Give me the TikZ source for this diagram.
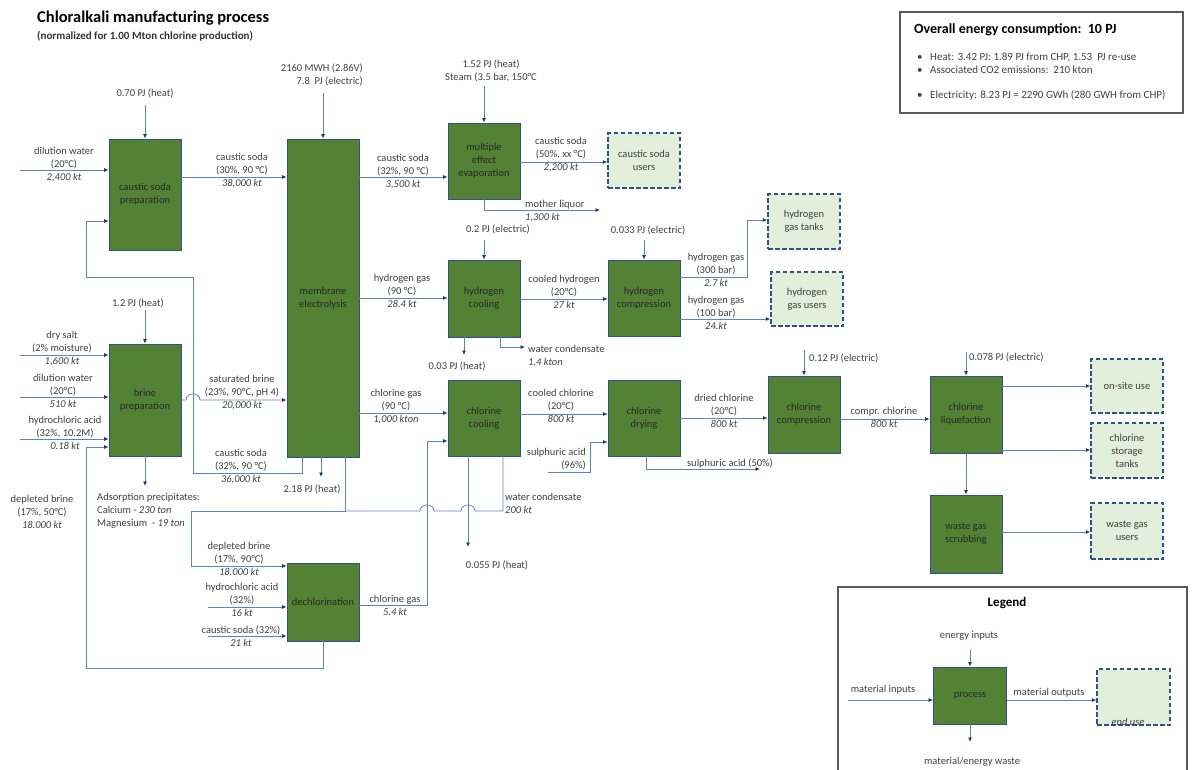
\documentclass[tikz,border=0pt]{standalone}
\usepackage{fontspec}
\setmainfont{Carlito}
\usetikzlibrary{arrows.meta}
\definecolor{procgreen}{HTML}{548235}
\definecolor{procedge}{HTML}{2F528F}
\definecolor{usefill}{HTML}{E2EFDA}
\definecolor{flowline}{HTML}{6482B9}
\definecolor{tipcolor}{HTML}{203864}
\definecolor{lbltext}{HTML}{404040}
\tikzstyle{process} = [rectangle, draw = procedge, fill = procgreen, line width = 0.8pt, minimum width = 72pt, minimum height = 77pt, align = center, text = black!85, inner sep = 1pt, font = \fontsize{10.5}{13}\selectfont]
\tikzstyle{enduse} = [rectangle, draw = procedge, fill = usefill, dash pattern = on 4.5pt off 2.5pt, line width = 1.4pt, minimum width = 72pt, minimum height = 55pt, align = center, text = lbltext, font = \fontsize{10.5}{13}\selectfont]
\tikzstyle{lbl} = [align = center, text = lbltext, inner sep = 0pt, font = \fontsize{10.5}{13}\selectfont]
\tikzstyle{flow} = [-{Latex[length = 4.5pt, width = 4pt, color = tipcolor]}, draw = flowline, line width = 0.8pt]
\tikzstyle{pipe} = [draw = flowline, line width = 0.8pt]
\tikzstyle{infobox} = [rectangle, draw = gray!70!black, line width = 1.2pt]

\begin{document}
\begin{tikzpicture}[x = 1pt, y = -1pt]
            \useasboundingbox (0, 0) rectangle (1196, 769);
            \node (ttl) at (37, 18) [anchor = west, inner sep = 0pt, font = \bfseries\fontsize{16.5}{20}\selectfont] {Chloralkali manufacturing process};
            \node (subttl) at (37, 36) [anchor = west, inner sep = 0pt, text = black!80, font = \bfseries\fontsize{11}{13}\selectfont] {(normalized for 1.00 Mton chlorine production)};
            \node (engbox) at (1041.5, 62.5) [infobox, minimum width = 283pt, minimum height = 101pt] {};
            \node (engttl) at (914, 30) [anchor = west, inner sep = 0pt, font = \bfseries\fontsize{14}{17}\selectfont] {Overall energy consumption:\ \ 10 PJ};
            \node (enga) at (917, 57) [lbl, anchor = west, font = \fontsize{11}{13}\selectfont] {\makebox[13pt][l]{•}Heat: 3.42 PJ: 1.89 PJ from CHP, 1.53\ \ PJ re-use};
            \node (engb) at (917, 70) [lbl, anchor = west, font = \fontsize{11}{13}\selectfont] {\makebox[13pt][l]{•}Associated CO2 emissions:\ \ 210 kton};
            \node (engc) at (917, 95) [lbl, anchor = west, font = \fontsize{11}{13}\selectfont] {\makebox[13pt][l]{•}Electricity: 8.23 PJ = 2290 GWh (280 GWH from CHP)};

            \node (prep) at (145, 194.5) [process, minimum height = 111pt] {caustic soda\\preparation};
            \node (memb) at (323, 298) [process, minimum height = 318pt] {membrane\\electrolysis};
            \node (evap) at (484, 161) [process, minimum height = 76pt] {multiple\\effect\\evaporation};
            \node (hcool) at (484, 298.5) [process] {hydrogen\\cooling};
            \node (clcool) at (484, 418) [process, minimum height = 76pt] {chlorine\\cooling};
            \node (hcomp) at (644, 298) [process, minimum height = 76pt] {hydrogen\\compression};
            \node (cldry) at (644, 418) [process, minimum height = 76pt] {chlorine\\drying};
            \node (clcomp) at (804, 414.5) [process] {chlorine\\compression};
            \node (liq) at (966, 414.5) [process] {chlorine\\liquefaction};
            \node (scrub) at (966, 534) [process, minimum height = 78pt] {waste gas\\scrubbing};
            \node (brine) at (145, 400) [process, minimum height = 112pt] {brine\\preparation};
            \node (dechl) at (323, 602) [process, minimum height = 78pt] {dechlorination};

            \node (csusers) at (644, 160.5) [enduse] {caustic soda\\users};
            \node (htanks) at (804, 221.5) [enduse] {hydrogen\\gas tanks};
            \node (husers) at (807, 299) [enduse, minimum height = 54pt] {hydrogen\\gas users};
            \node (onsite) at (1127, 386) [enduse, minimum height = 54pt] {on-site use};
            \node (cltanks) at (1127, 450.5) [enduse] {chlorine\\storage\\tanks};
            \node (wgusers) at (1127, 531) [enduse, minimum height = 56pt] {waste gas\\users};

            \coordinate (inprep) at (145, 105);
            \coordinate (inwater) at (20, 170);
            \coordinate (inmemb) at (323, 93);
            \coordinate (inevap) at (484, 86);
            \coordinate (outliquor) at (600, 210);
            \coordinate (inhcool) at (484, 240);
            \coordinate (outhheat) at (464, 355);
            \coordinate (outhwater) at (525, 347);
            \coordinate (inhcomp) at (644, 240);
            \coordinate (insulph) at (548, 472);
            \coordinate (outsulph) at (760, 469);
            \coordinate (inclcomp) at (804, 350);
            \coordinate (inliq) at (966, 352);
            \coordinate (inbrine) at (145, 310);
            \coordinate (insalt) at (20, 355);
            \coordinate (inwaterb) at (20, 397);
            \coordinate (inacid) at (20, 439);
            \coordinate (outprecip) at (145, 486);
            \coordinate (outmheat) at (321, 477);
            \coordinate (outclheat) at (468, 547);
            \coordinate (inacidd) at (208, 607);
            \coordinate (insoda) at (208, 636);

            \draw [flow] (inprep) -- (prep.north);
            \draw [flow] (inwater) -- (prep.west |- 0,170);
            \draw [flow] (prep.east |- 0,177) -- (memb.west |- 0,177);
            \draw [flow] (inmemb) -- (memb.north);
            \draw [flow] (memb.east |- 0,177) -- (evap.west |- 0,177);
            \draw [flow] (inevap) -- (evap.north);
            \draw [flow] (evap.east |- 0,162) -- (csusers.west |- 0,162);
            \draw [flow] (evap.south) |- (outliquor);
            \draw [flow] (memb.east |- 0,298) -- (hcool.west |- 0,298);
            \draw [flow] (inhcool) -- (hcool.north);
            \draw [flow] (hcool.east |- 0,299) -- (hcomp.west |- 0,299);
            \draw [flow] (hcool.south -| outhheat) -- (outhheat);
            \draw [flow] (hcool.south -| 500,0) |- (outhwater);
            \draw [flow] (inhcomp) -- (hcomp.north);
            \draw [flow] (hcomp.east |- 0,277) -- (747, 277) -- (747, 220) -- (htanks.west |- 0,220);
            \draw [flow] (hcomp.east |- 0,319) -- (husers.west |- 0,319);
            \draw [flow] (memb.east |- 0,413) -- (clcool.west |- 0,413);
            \draw [flow] (clcool.east |- 0,414) -- (cldry.west |- 0,414);
            \draw [flow] (insulph) -| (590, 442) -- (cldry.west |- 0,442);
            \draw [flow] (cldry.south -| 646,0) |- (outsulph);
            \draw [flow] (cldry.east |- 0,418) -- (clcomp.west |- 0,418);
            \draw [flow] (inclcomp) -- (clcomp.north);
            \draw [flow] (clcomp.east |- 0,419) -- (liq.west |- 0,419);
            \draw [flow] (inliq) -- (liq.north);
            \draw [flow] (liq.east |- 0,386) -- (onsite.west |- 0,386);
            \draw [flow] (liq.east |- 0,450) -- (cltanks.west |- 0,450);
            \draw [flow] (liq.south) -- (scrub.north);
            \draw [flow] (scrub.east |- 0,532) -- (wgusers.west |- 0,532);
            \draw [flow] (inbrine) -- (brine.north);
            \draw [flow] (insalt) -- (brine.west |- 0,355);
            \draw [flow] (inwaterb) -- (brine.west |- 0,397);
            \draw [flow] (inacid) -- (brine.west |- 0,439);
            \draw [flow] (brine.east |- 0,400) -- (186, 400) .. controls (186, 392) and (200, 392) .. (200, 400) -- (memb.west |- 0,400);
            \draw [flow] (brine.south) -- (outprecip);
            \draw [flow] (memb.south -| 302,0) -- (302, 473) -- (193, 473) -- (193, 277) -- (86, 277) -- (86, 221) -- (prep.west |- 0,221);
            \draw [flow] (memb.south -| outmheat) -- (outmheat);
            \draw [flow] (memb.south -| 345,0) -- (345, 511) -- (191, 511) -- (191, 566) -- (dechl.west |- 0,566);
            \draw [pipe] (clcool.south -| 503,0) -- (503, 511) -- (475, 511) .. controls (475, 503) and (461, 503) .. (461, 511) -- (434, 511) .. controls (434, 503) and (420, 503) .. (420, 511) -- (345, 511);
            \draw [flow] (clcool.south -| outclheat) -- (outclheat);
            \draw [flow] (dechl.east |- 0,605) -- (427, 605) -- (427, 441) -- (clcool.west |- 0,441);
            \draw [flow] (inacidd) -- (dechl.west |- 0,607);
            \draw [flow] (insoda) -- (dechl.west |- 0,636);
            \draw [flow] (dechl.south) -- (323, 668) -- (86, 668) -- (86, 447) -- (brine.west |- 0,447);

            \node (lbla) at (145, 93) [lbl] {0.70 PJ (heat)};
            \node (lblb) at (64, 165) [lbl] {dilution water\\(20°C)\\\textit{2,400 kt}};
            \node (lblc) at (242, 171) [lbl] {caustic soda\\(30\%, 90 °C)\\\textit{38,000 kt}};
            \node (lbld) at (363, 75) [lbl, anchor = east, align = right] {2160 MWH (2.86V)\\7.8\ \ PJ (electric)};
            \node (lble) at (403, 172) [lbl] {caustic soda\\(32\%, 90 °C)\\\textit{3,500 kt}};
            \node (lblf) at (491, 70.5) [lbl] {1.52 PJ (heat)\\Steam (3.5 bar, 150°C};
            \node (lblg) at (561, 155) [lbl] {caustic soda\\(50\%, xx °C)\\\textit{2,200 kt}};
            \node (lblh) at (525, 211) [lbl, anchor = west, align = left] {mother liquor\\\textit{1,300 kt}};
            \node (lbli) at (498, 229) [lbl] {0.2 PJ (electric)};
            \node (lblj) at (402, 291) [lbl] {hydrogen gas\\(90 °C)\\\textit{28.4 kt}};
            \node (lblk) at (564, 292) [lbl] {cooled hydrogen\\(20°C)\\\textit{27 kt}};
            \node (lbll) at (457, 366) [lbl] {0.03 PJ (heat)};
            \node (lblm) at (528, 355) [lbl, anchor = west, align = left] {water condensate\\\textit{1.4 kton}};
            \node (lbln) at (648, 230) [lbl] {0.033 PJ (electric)};
            \node (lblo) at (716, 270) [lbl] {hydrogen gas\\(300 bar)\\\textit{2.7 kt}};
            \node (lblp) at (716, 313) [lbl] {hydrogen gas\\(100 bar)\\\textit{24.kt}};
            \node (lblq) at (396, 407) [lbl] {chlorine gas\\(90 °C)\\\textit{1,000 kton}};
            \node (lblr) at (561, 406) [lbl] {cooled chlorine\\(20°C)\\\textit{800 kt}};
            \node (lbls) at (586, 459) [lbl, anchor = east, align = right] {sulphuric acid\\(96\%)};
            \node (lblt) at (724, 411) [lbl] {dried chlorine\\(20°C)\\\textit{800 kt}};
            \node (lblu) at (809, 358) [lbl, anchor = west] {0.12 PJ (electric)};
            \node (lblv) at (730, 463) [lbl] {sulphuric acid (50\%)};
            \node (lblw) at (505, 503) [lbl, anchor = west, align = left] {water condensate\\\textit{200 kt}};
            \node (lblx) at (497, 565) [lbl] {0.055 PJ (heat)};
            \node (lbly) at (884, 417.5) [lbl] {compr. chlorine\\\textit{800 kt}};
            \node (lblz) at (969, 357) [lbl, anchor = west] {0.078 PJ (electric)};
            \node (lblbh) at (138, 303) [lbl] {1.2 PJ (heat)};
            \node (lblbs) at (62, 349) [lbl] {dry salt\\(2\% moisture)\\\textit{1,600 kt}};
            \node (lblbw) at (63, 391) [lbl] {dilution water\\(20°C)\\\textit{510 kt}};
            \node (lblba) at (65, 433) [lbl] {hydrochloric acid\\(32\%, 10.2M)\\\textit{0.18 kt}};
            \node (lblsb) at (242, 393) [lbl] {saturated brine\\(23\%, 90°C, pH 4)\\\textit{20,000 kt}};
            \node (lblcs) at (241, 467) [lbl] {caustic soda\\(32\%, 90 °C)\\\textit{36,000 kt}};
            \node (lbldb) at (42, 512) [lbl] {depleted brine\\(17\%, 50°C)\\\textit{18.000 kt}};
            \node (lblap) at (97, 511) [lbl, anchor = west, align = left] {Adsorption precipitates:\\Calcium - \textit{230 ton}\\Magnesium\ \ - \textit{19 ton}};
            \node (lblmh) at (312, 489) [lbl] {2.18 PJ (heat)};
            \node (lbldd) at (239, 559) [lbl] {depleted brine\\(17\%, 90°C)\\\textit{18.000 kt}};
            \node (lblda) at (242, 600) [lbl] {hydrochloric acid\\(32\%)\\\textit{16 kt}};
            \node (lblds) at (241, 636.5) [lbl] {caustic soda (32\%)\\\textit{21 kt}};
            \node (lbldc) at (395, 605.5) [lbl] {chlorine gas\\\textit{5.4 kt}};

            \node (legbox) at (1012.5, 680) [infobox, minimum width = 349pt, minimum height = 186pt] {};
            \node (legttl) at (1007, 603) [font = \bfseries\fontsize{13}{15}\selectfont] {Legend};
            \node (lproc) at (970, 695.5) [process, minimum width = 73pt, minimum height = 57pt] {process};
            \node (lend) at (1133.5, 697) [enduse, minimum width = 73pt, minimum height = 56pt] {};
            \node (lendtxt) at (1128, 722) [lbl, font = \itshape\fontsize{10.5}{13}\selectfont] {end use};
            \coordinate (legtop) at (970, 650);
            \coordinate (legin) at (848, 700);
            \coordinate (legwaste) at (970, 742);
            \draw [flow] (legtop) -- (lproc.north);
            \draw [flow] (legin) -- (lproc.west |- 0,700);
            \draw [flow] (lproc.east |- 0,700) -- (lend.west |- 0,700);
            \draw [flow] (lproc.south) -- (legwaste);
            \node (lgle) at (969, 636) [lbl] {energy inputs};
            \node (lglm) at (883, 690) [lbl] {material inputs};
            \node (lglo) at (1049, 693) [lbl] {material outputs};
            \node (lglw) at (972, 762) [lbl] {material/energy waste};
        \end{tikzpicture}
\end{document}
